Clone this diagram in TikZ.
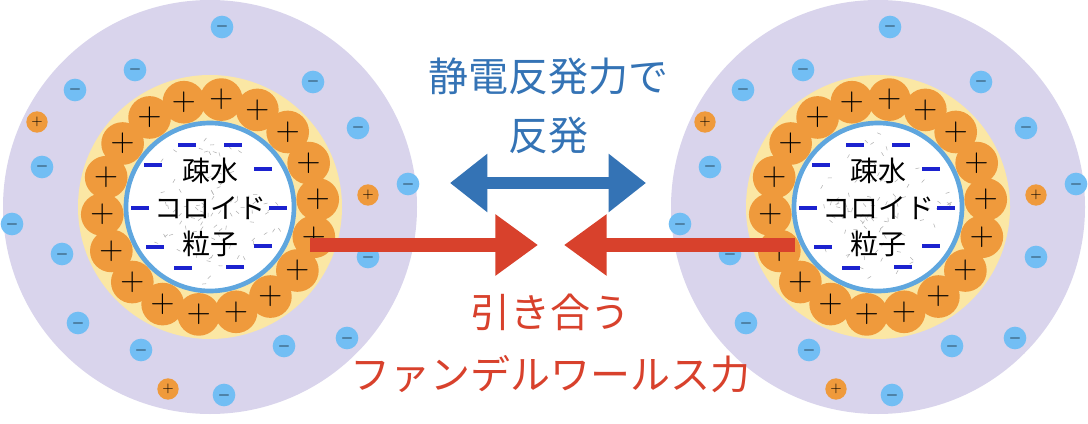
\documentclass[tikz,border=0pt]{standalone}
\usepackage{fontspec}
\newfontfamily\jpfont{Noto Sans CJK JP}
\usetikzlibrary{arrows.meta,positioning}
\definecolor{cloudpurple}{HTML}{D9D4EC}
\definecolor{ringyellow}{HTML}{FBE7A4}
\definecolor{ionorange}{HTML}{EF9A3C}
\definecolor{ionblue}{HTML}{72BEF4}
\definecolor{coreblue}{HTML}{5FA6DE}
\definecolor{chargeblue}{HTML}{1C22CF}
\definecolor{arrowblue}{HTML}{3473B5}
\definecolor{arrowred}{HTML}{D8412C}

\tikzset{
  plusion/.style={circle,fill=ionorange,minimum size=32pt,inner sep=0pt,font=\fontsize{24}{24}\selectfont},
  smallplus/.style={circle,fill=ionorange,minimum size=16pt,inner sep=0pt,font=\fontsize{11}{11}\selectfont},
  minusion/.style={circle,fill=ionblue,minimum size=17pt,inner sep=0pt,font=\bfseries\fontsize{12}{12}\selectfont},
  corecharge/.style={draw=chargeblue,line width=3},
  coretext/.style={font=\jpfont\fontsize{21}{21}\selectfont},
  bigtext/.style={font=\jpfont\fontsize{30}{30}\selectfont},
}

% one colloid particle with its ion cloud
\newcommand\colloid[2]{%
  \begin{scope}[shift={(#1)}]
    \fill[cloudpurple] (0,0) circle (207);
    \fill[ringyellow] (0,0) circle (132);
    \foreach \k in {0,...,17}
      \node[plusion] (#2p\k) at ({96-20*\k}:{108} ) {$+$};
    \filldraw[fill=white,draw=coreblue,line width=3.5] (0,0) circle (84);
    \foreach \i in {1,...,90}
      \draw[gray!60,thin] ({rnd*360}:{rnd*78}) -- ++({rnd*360}:4);
    \foreach \p in {(-23,-62),(23,-62),(-57,-42),(53,-38),(-70,1),(68,1),(-55,40),(53,39),(-27,61),(25,60)}
      \draw[corecharge] \p ++(-9,0) -- ++(18,0);
    \node[coretext] (#2c1) at (0,-36) {疎水};
    \node[coretext] (#2c2) at (0,1) {コロイド};
    \node[coretext] (#2c3) at (0,37) {粒子};
    \foreach \p [count=\j] in {(12,-180),(-75,-137),(-135,-117),(103,-125),(148,-79),(-168,-40),(198,-23),(-198,17),(-148,47),(158,50),(-132,116),(-69,143),(74,139),(137,131),(14,188)}
      \node[minusion] (#2m\j) at \p {$-$};
    \foreach \p [count=\j] in {(-173,-85),(158,-12),(-42,182)}
      \node[smallplus] (#2s\j) at \p {$+$};
  \end{scope}}

\begin{document}
\begin{tikzpicture}[x=0.75pt,y=-0.75pt]
  \pgfmathsetseed{7}
  \useasboundingbox[fill=white] (0,0) rectangle (1088,424);
  \colloid{210,207}{L}
  \colloid{878,207}{R}

  \node[bigtext,text=arrowblue] (rep1) at (548,76) {静電反発力で};
  \node[bigtext,text=arrowblue,below=10pt of rep1] (rep2) {反発};
  \node[bigtext,text=arrowred] (att1) at (550,312) {引き合う};
  \node[bigtext,text=arrowred,below=12pt of att1] (att2) {ファンデルワールス力};

  \coordinate (bl) at (450,183);
  \coordinate (br) at (646,183);
  \coordinate (ls) at (310,245);
  \coordinate (le) at (538,245);
  \coordinate (rs) at (795,245);
  \coordinate (re) at (564,245);
  \draw[arrowblue,line width=9,{Triangle[length=28,width=42]}-{Triangle[length=28,width=42]}] (bl) -- (br);
  \draw[arrowred,line width=11,-{Triangle[length=32,width=44]}] (ls) -- (le);
  \draw[arrowred,line width=11,-{Triangle[length=32,width=44]}] (rs) -- (re);
\end{tikzpicture}
\end{document}
